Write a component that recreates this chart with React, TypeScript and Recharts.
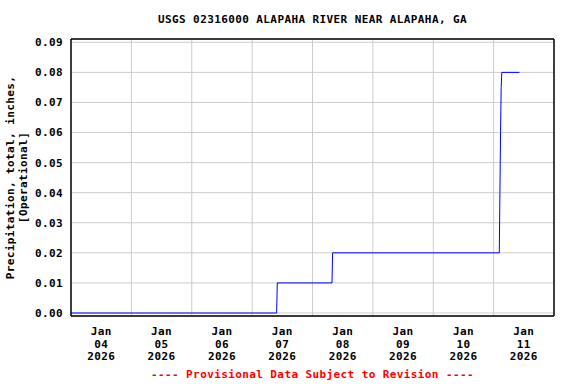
import React from 'react'
import { LineChart, Line, XAxis, YAxis, CartesianGrid } from 'recharts'

const TITLE = 'USGS 02316000 ALAPAHA RIVER NEAR ALAPAHA, GA'
const FOOTER = '---- Provisional Data Subject to Revision ----'
const Y_LABEL = ['Precipitation, total, inches,', '[Operational]']

// readings, cumulative inches
const TIMES = [
  '2026-01-04T00:00',
  '2026-01-07T09:45',
  '2026-01-07T10:00',
  '2026-01-08T07:45',
  '2026-01-08T08:00',
  '2026-01-11T02:15',
  '2026-01-11T02:30',
  '2026-01-11T02:45',
  '2026-01-11T03:00',
  '2026-01-11T03:15',
  '2026-01-11T10:15',
]
const PRECIP = [0, 0, 0.01, 0.01, 0.02, 0.02, 0.04, 0.06, 0.075, 0.08, 0.08]

const TICK_DATES = ['2026-01-04', '2026-01-05', '2026-01-06', '2026-01-07', '2026-01-08', '2026-01-09', '2026-01-10', '2026-01-11']
const TICK_MONTHS = ['Jan', 'Jan', 'Jan', 'Jan', 'Jan', 'Jan', 'Jan', 'Jan']
const TICK_DAYS = ['04', '05', '06', '07', '08', '09', '10', '11']
const TICK_YEARS = ['2026', '2026', '2026', '2026', '2026', '2026', '2026', '2026']
const GRID_DATES = ['2026-01-05', '2026-01-06', '2026-01-07', '2026-01-08', '2026-01-09', '2026-01-10', '2026-01-11']
const Y_TICKS = [0, 0.01, 0.02, 0.03, 0.04, 0.05, 0.06, 0.07, 0.08, 0.09]

const toMs = (s: string) => new Date(s + (s.length === 10 ? 'T00:00' : '') + 'Z').getTime()
const HOUR = 3600 * 1000

const data = TIMES.map((t, i) => ({ t: toMs(t), v: PRECIP[i] }))
const noonTicks = TICK_DATES.map((d) => toMs(d) + 12 * HOUR)
const midnightTicks = GRID_DATES.map((d) => toMs(d))
const X_START = toMs('2026-01-04')
const X_END = toMs('2026-01-12')
const Y_DOMAIN = [-0.001, 0.0911]

const FONT = "'DejaVu Sans Mono', monospace"
const textStyle = { fontFamily: FONT, fontWeight: 'bold' as const, fontSize: 11, letterSpacing: 0.4 }

function DayTick({ x, y, payload }: any) {
  const i = noonTicks.indexOf(payload.value)
  if (i < 0) return null
  return (
    <text x={x} y={y} textAnchor="middle" fill="#000" style={textStyle}>
      <tspan x={x} dy={11}>{TICK_MONTHS[i]}</tspan>
      <tspan x={x} dy={12.5}>{TICK_DAYS[i]}</tspan>
      <tspan x={x} dy={12.5}>{TICK_YEARS[i]}</tspan>
    </text>
  )
}

// gridlines sit at midnight, between the noon-centred day labels
function midnightGrid({ xAxis, offset }: any) {
  if (xAxis && typeof xAxis.scale === 'function') {
    return midnightTicks.map((t) => xAxis.scale(t))
  }
  return midnightTicks.map((t) => offset.left + ((t - X_START) / (X_END - X_START)) * offset.width)
}

export default function App() {
  return (
    <div style={{ position: 'absolute', left: 0, top: 0, width: 576, height: 384, background: '#fff' }}>
      <div
        style={{
          position: 'absolute', left: 71, width: 483, top: 13, textAlign: 'center',
          ...textStyle, color: '#000', whiteSpace: 'pre',
        }}
      >
        {TITLE}
      </div>
      <LineChart
        width={576}
        height={384}
        data={data}
        margin={{ top: 38, right: 21, bottom: 0, left: 0 }}
      >
        <CartesianGrid
          stroke="#cccccc"
          strokeWidth={1}
          verticalCoordinatesGenerator={midnightGrid}
        />
        <XAxis
          dataKey="t"
          type="number"
          scale="linear"
          domain={[X_START, X_END]}
          ticks={noonTicks}
          tick={<DayTick />}
          tickLine={false}
          axisLine={{ stroke: '#000', strokeWidth: 1.5 }}
          height={68}
          interval={0}
          allowDataOverflow
        />
        <XAxis
          xAxisId="top"
          orientation="top"
          dataKey="t"
          type="number"
          scale="linear"
          domain={[X_START, X_END]}
          tick={false}
          tickLine={false}
          axisLine={{ stroke: '#000', strokeWidth: 1.5 }}
          height={1}
          allowDataOverflow
        />
        <YAxis
          type="number"
          domain={Y_DOMAIN}
          ticks={Y_TICKS}
          tickFormatter={(v: number) => v.toFixed(2)}
          tick={{ fill: '#000', ...textStyle }}
          tickLine={false}
          axisLine={{ stroke: '#000', strokeWidth: 1.5 }}
          width={71}
          interval={0}
          allowDataOverflow
        />
        <YAxis
          yAxisId="right"
          orientation="right"
          type="number"
          domain={Y_DOMAIN}
          tick={false}
          tickLine={false}
          axisLine={{ stroke: '#000', strokeWidth: 1.5 }}
          width={1}
          allowDataOverflow
        />
        <Line
          dataKey="v"
          type="linear"
          stroke="#0000ff"
          strokeWidth={1}
          dot={false}
          activeDot={false}
          isAnimationActive={false}
        />
      </LineChart>
      <svg style={{ position: 'absolute', left: 0, top: 0 }} width={40} height={384}>
        <text transform="translate(10,177.5) rotate(-90)" textAnchor="middle" dominantBaseline="central" fill="#000" style={textStyle}>
          {Y_LABEL[0]}
        </text>
        <text transform="translate(23.5,177.5) rotate(-90)" textAnchor="middle" dominantBaseline="central" fill="#000" style={textStyle}>
          {Y_LABEL[1]}
        </text>
      </svg>
      <div
        style={{
          position: 'absolute', left: 71, width: 483, top: 368, textAlign: 'center',
          ...textStyle, color: '#ff0000', whiteSpace: 'pre',
        }}
      >
        {FOOTER}
      </div>
    </div>
  )
}
